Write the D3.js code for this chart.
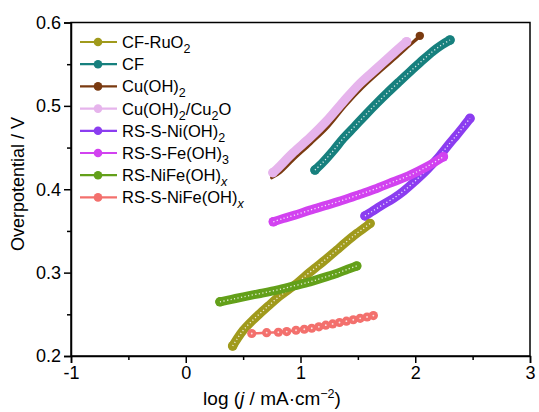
<!DOCTYPE html>
<html><head><meta charset="utf-8">
<script src="https://cdn.jsdelivr.net/npm/d3@7"></script>
<style>body{margin:0;background:#fff}svg{display:block;font-family:"Liberation Sans",Arial,sans-serif}</style>
</head><body>
<svg id="c" width="539" height="412"></svg>
<script>
// ---- data ----
const xTicks = [-1, 0, 1, 2, 3];
const yTicks = [0.2, 0.3, 0.4, 0.5, 0.6];

const cfRuO2X = [0.409,0.45,0.502,0.57,0.647,0.72,0.793,0.88,0.967,1.05,1.141,1.23,1.315,1.40,1.49,1.55,1.606];
const cfRuO2Y = [0.212,0.221,0.231,0.241,0.251,0.260,0.269,0.278,0.287,0.297,0.307,0.317,0.327,0.337,0.347,0.353,0.359];

const cfX = [1.126,1.2,1.29,1.373,1.47,1.565,1.664,1.76,1.86,1.954,2.05,2.15,2.23,2.303];
const cfY = [0.423,0.433,0.447,0.461,0.475,0.489,0.503,0.516,0.529,0.541,0.553,0.565,0.573,0.579];

const cuOH2X = [0.75,0.82,0.94,1.09,1.24,1.39,1.54,1.69,1.84,1.96,2.02,2.04];
const cuOH2Y = [0.414,0.420,0.436,0.455,0.475,0.500,0.522,0.541,0.559,0.574,0.581,0.584];

const cuOH2Cu2OX = [0.76,0.80,0.937,1.083,1.228,1.373,1.519,1.664,1.809,1.925];
const cuOH2Cu2OY = [0.420,0.425,0.444,0.462,0.482,0.505,0.527,0.545,0.563,0.577];

const niOH2X = [1.562,1.62,1.70,1.809,1.9,2.0,2.1,2.2,2.3,2.361,2.42,2.477];
const niOH2Y = [0.368,0.373,0.380,0.389,0.398,0.410,0.423,0.438,0.455,0.465,0.475,0.485];

const feOH3X = [0.763,0.85,0.95,1.083,1.23,1.373,1.52,1.664,1.81,1.954,2.1,2.245];
const feOH3Y = [0.361,0.365,0.369,0.375,0.381,0.387,0.394,0.401,0.409,0.417,0.427,0.439];

const niFeX = [0.298,0.4,0.502,0.65,0.793,0.94,1.083,1.2,1.315,1.41,1.49];
const niFeY = [0.265,0.268,0.271,0.275,0.279,0.284,0.289,0.294,0.299,0.304,0.308];

const sNiFeX = [0.575,0.705,0.807,0.88,0.961,1.033,1.098,1.16,1.22,1.28,1.34,1.40,1.46,1.52,1.58,1.635];
const sNiFeY = [0.227,0.228,0.2285,0.2293,0.2309,0.2321,0.2333,0.2350,0.2370,0.2385,0.2402,0.2418,0.2435,0.2452,0.2468,0.2485];

const names = [
  [["CF-RuO","n"],["2","sub"]],
  [["CF","n"]],
  [["Cu(OH)","n"],["2","sub"]],
  [["Cu(OH)","n"],["2","sub"],["/Cu","n"],["2","sub"],["O","n"]],
  [["RS-S-Ni(OH)","n"],["2","sub"]],
  [["RS-S-Fe(OH)","n"],["3","sub"]],
  [["RS-NiFe(OH)","n"],["x","subi"]],
  [["RS-S-NiFe(OH)","n"],["x","subi"]]
];
const colors = ["#A09A1C","#17807E","#7A3A10","#E6B4EC","#8B3DF0","#D242F0","#63A01A","#F3706D"];

const seriesX = [cfRuO2X, cfX, cuOH2X, cuOH2Cu2OX, niOH2X, feOH3X, niFeX, sNiFeX];
const seriesY = [cfRuO2Y, cfY, cuOH2Y, cuOH2Cu2OY, niOH2Y, feOH3Y, niFeY, sNiFeY];
const bandW = [9, 9, 3.5, 9, 9, 9, 9, 0];
const drawOrder = [2, 3, 1, 4, 5, 0, 6, 7];

// ---- chart ----
const svg = d3.select("#c");
const L = 71, R = 530, T = 22.5, B = 356;
const x = d3.scaleLinear().domain([-1, 3]).range([L, R]);
const y = d3.scaleLinear().domain([0.2, 0.6]).range([B, T]);

const line = d3.line().x(d => x(d[0])).y(d => y(d[1])).curve(d3.curveCatmullRom.alpha(0.5));

const plot = svg.append("g");
drawOrder.forEach(i => {
  const pts = seriesX[i].map((v, k) => [v, seriesY[i][k]]);
  const c = colors[i];
  if (bandW[i] > 0) {
    plot.append("path").attr("d", line(pts)).attr("fill", "none")
      .attr("stroke", c).attr("stroke-width", bandW[i]).attr("stroke-linecap", "round").attr("stroke-linejoin", "round");
    const ends = i === 2 ? [pts[pts.length - 1]] : [pts[0], pts[pts.length - 1]];
    plot.selectAll(null).data(ends).enter().append("circle")
      .attr("cx", d => x(d[0])).attr("cy", d => y(d[1])).attr("r", i === 2 ? 4.2 : 4.8).attr("fill", c);
    if (i !== 2 && i !== 3) {
      plot.append("path").attr("d", line(pts)).attr("fill", "none")
        .attr("stroke", "#fff").attr("stroke-opacity", 0.85).attr("stroke-width", 1.3)
        .attr("stroke-dasharray", "1.2,2.4");
    }
  } else {
    plot.append("path").attr("d", line(pts)).attr("fill", "none").attr("stroke", c).attr("stroke-width", 2.5);
    plot.selectAll(null).data(pts).enter().append("circle")
      .attr("cx", d => x(d[0])).attr("cy", d => y(d[1])).attr("r", 4.6).attr("fill", c);
    plot.selectAll(null).data(pts).enter().append("circle")
      .attr("cx", d => x(d[0])).attr("cy", d => y(d[1])).attr("r", 0.9).attr("fill", "#fff").attr("opacity", 0.8);
  }
});

// frame
svg.append("rect").attr("x", L).attr("y", T).attr("width", R - L).attr("height", B - T)
  .attr("fill", "none").attr("stroke", "#000").attr("stroke-width", 1.5);

// axes
const xAxis = d3.axisBottom(x).tickValues(xTicks).tickFormat(d3.format("d")).tickSize(7).tickPadding(3);
const gx = svg.append("g").attr("transform", `translate(0,${B})`).call(xAxis);
gx.select(".domain").attr("stroke-width", 1.5);
gx.selectAll(".tick line").attr("stroke-width", 1.5);
gx.selectAll("text").attr("font-size", 18).attr("fill", "#000").text(d => d < 0 ? "-" + Math.abs(d) : d);
const xMinor = d3.axisBottom(x).tickValues([-0.5, 0.5, 1.5, 2.5]).tickSize(4).tickFormat("");
const gxm = svg.append("g").attr("transform", `translate(0,${B})`).call(xMinor);
gxm.select(".domain").remove();
gxm.selectAll(".tick line").attr("stroke-width", 1.5);

const yAxis = d3.axisLeft(y).tickValues(yTicks).tickFormat(d3.format(".1f")).tickSize(7).tickPadding(3);
const gy = svg.append("g").attr("transform", `translate(${L},0)`).call(yAxis);
gy.select(".domain").attr("stroke-width", 1.5);
gy.selectAll(".tick line").attr("stroke-width", 1.5);
gy.selectAll("text").attr("font-size", 18).attr("fill", "#000");
const yMinor = d3.axisLeft(y).tickValues([0.25, 0.35, 0.45, 0.55]).tickSize(4).tickFormat("");
const gym = svg.append("g").attr("transform", `translate(${L},0)`).call(yMinor);
gym.select(".domain").remove();
gym.selectAll(".tick line").attr("stroke-width", 1.5);

// axis titles
svg.append("text").attr("transform", "translate(24,184) rotate(-90)").attr("text-anchor", "middle")
  .attr("font-size", 18).text("Overpotential / V");
const xt = svg.append("text").attr("x", 272).attr("y", 405).attr("text-anchor", "middle").attr("font-size", 19);
xt.append("tspan").text("log (");
xt.append("tspan").attr("font-style", "italic").text("j");
xt.append("tspan").text(" / mA·cm");
xt.append("tspan").attr("font-size", 12.5).attr("dy", -7).text("−2");
xt.append("tspan").attr("dy", 7).text(")");

// legend
const lg = svg.append("g");
names.forEach((parts, i) => {
  const yy = 42 + i * 22.2;
  lg.append("line").attr("x1", 80).attr("x2", 117).attr("y1", yy).attr("y2", yy)
    .attr("stroke", colors[i]).attr("stroke-width", 2.2);
  lg.append("circle").attr("cx", 98).attr("cy", yy).attr("r", 4.3).attr("fill", colors[i]);
  const t = lg.append("text").attr("x", 122).attr("y", yy + 6).attr("font-size", 16.5);
  let shifted = false;
  parts.forEach(([s, kind]) => {
    const sp = t.append("tspan").text(s);
    if (kind === "n") { if (shifted) { sp.attr("dy", -5); shifted = false; } }
    else {
      sp.attr("font-size", 12.5).attr("dy", 5); shifted = true;
      if (kind === "subi") sp.attr("font-style", "italic");
    }
  });
});
</script>
</body></html>
